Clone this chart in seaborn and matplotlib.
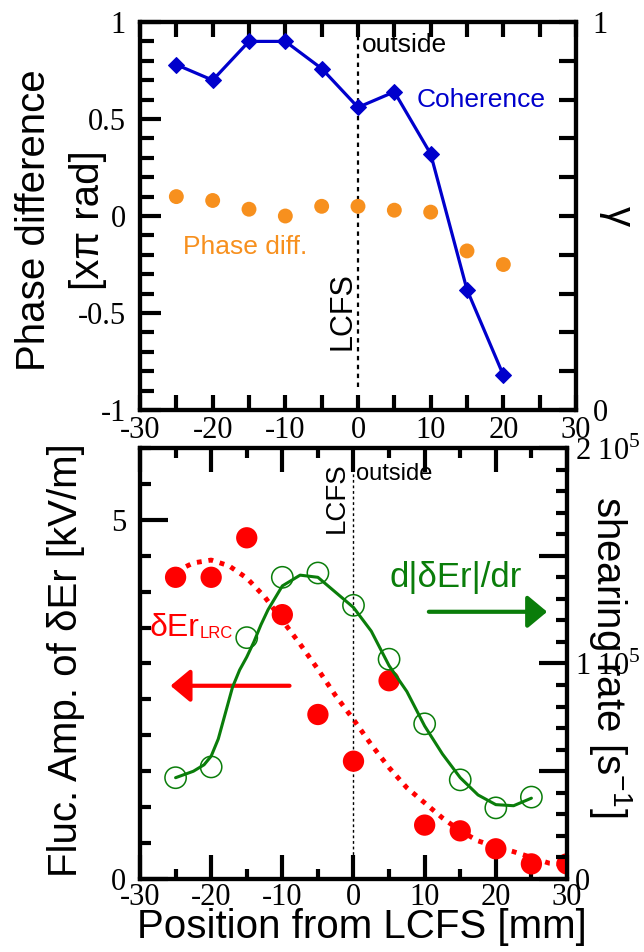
import seaborn as sns
import matplotlib.pyplot as plt
from matplotlib.ticker import MultipleLocator, FuncFormatter

# upper panel: phase difference and coherence
pos_top = [-25, -20, -15, -10, -5, 0, 5, 10, 15, 20]
coherence = [0.89, 0.85, 0.95, 0.95, 0.88, 0.78, 0.82, 0.66, 0.31, 0.09]
phase_diff = [0.10, 0.08, 0.035, 0.0, 0.05, 0.05, 0.03, 0.02, -0.18, -0.25]

# lower panel: fluctuation amplitude and shearing rate
pos_er = [-25, -20, -15, -10, -5, 0, 5, 10, 15, 20, 25, 30]
er_amp = [4.20, 4.20, 4.75, 3.68, 2.29, 1.64, 2.76, 0.75, 0.67, 0.42, 0.21, 0.21]
pos_shear = [-25, -20, -15, -10, -5, 0, 5, 10, 15, 20, 25]
shear_rate = [0.47e5, 0.52e5, 1.12e5, 1.40e5, 1.42e5, 1.27e5, 1.02e5,
              0.72e5, 0.46e5, 0.33e5, 0.38e5]

# fitted curves
fit_pos_er = [-25, -22.5, -20, -17.5, -15, -12.5, -10, -7.5, -5, -2.5, 0, 2.5,
              5, 7.5, 10, 12.5, 15, 17.5, 20, 22.5, 25, 27.5, 30]
fit_er = [4.28, 4.40, 4.44, 4.36, 4.19, 3.93, 3.60, 3.27, 2.92, 2.55, 2.22, 1.87,
          1.55, 1.27, 1.06, 0.85, 0.67, 0.53, 0.45, 0.38, 0.30, 0.22, 0.20]
fit_pos_shear = [-25, -22.5, -21, -20, -19, -18, -17, -16, -15, -14, -13, -12,
                 -10, -7.5, -5, -2.5, 0, 2.5, 5, 7.5, 10, 12.5, 15, 17.5, 20,
                 22.5, 25]
fit_shear = [0.47e5, 0.50e5, 0.53e5, 0.57e5, 0.65e5, 0.77e5, 0.89e5, 0.97e5,
             1.03e5, 1.10e5, 1.18e5, 1.25e5, 1.36e5, 1.41e5, 1.40e5, 1.33e5,
             1.26e5, 1.15e5, 0.99e5, 0.87e5, 0.71e5, 0.58e5, 0.47e5, 0.39e5,
             0.345e5, 0.34e5, 0.375e5]

BLUE = "#0000CC"
ORANGE = "#F7901E"
RED = "#FF0000"
GREEN = "#0A7D0A"
SANS = "Liberation Sans"
SERIF = "Liberation Serif"
TICK_FS = 22
LABEL_FS = 29

sns.set_style("ticks")
plt.rcParams["font.family"] = [SANS, "DejaVu Sans"]
plt.rcParams["mathtext.fontset"] = "custom"
plt.rcParams["mathtext.rm"] = SERIF
plt.rcParams["mathtext.sf"] = SANS
plt.rcParams["text.color"] = "black"
plt.rcParams["axes.labelcolor"] = "black"
plt.rcParams["axes.edgecolor"] = "black"
plt.rcParams["xtick.color"] = "black"
plt.rcParams["ytick.color"] = "black"


def style_axis(ax):
    for sp in ax.spines.values():
        sp.set_linewidth(3)
        sp.set_color("black")
        sp.set_visible(True)
    for lab in ax.get_xticklabels() + ax.get_yticklabels():
        lab.set_fontfamily(SERIF)
        lab.set_fontsize(TICK_FS)
        lab.set_color("black")


num = FuncFormatter(lambda v, p: "%g" % v)

fig = plt.figure(figsize=(6.44, 9.52), dpi=100)

# ---------------- upper panel ----------------
ax1 = fig.add_axes([0.2174, 0.5693, 0.6770, 0.4076])
ax1r = ax1.twinx()

sns.scatterplot(x=pos_top, y=phase_diff, ax=ax1, color=ORANGE, s=115,
                edgecolor="none", zorder=3)
sns.lineplot(x=pos_top, y=coherence, ax=ax1r, color=BLUE, lw=2.3, marker="D",
             markersize=8.5, markeredgecolor=BLUE)

ax1.set_xlim(-30, 30)
ax1.set_ylim(-1, 1)
ax1r.set_ylim(0, 1)
ax1.axvline(0, ymin=0.06, ymax=1, color="black", ls=(0, (2, 2)), lw=1.6)

ax1.xaxis.set_major_locator(MultipleLocator(10))
ax1.xaxis.set_minor_locator(MultipleLocator(5))
ax1.yaxis.set_major_locator(MultipleLocator(0.5))
ax1.yaxis.set_minor_locator(MultipleLocator(0.1))
ax1.xaxis.set_major_formatter(num)
ax1.yaxis.set_major_formatter(num)
ax1r.yaxis.set_major_locator(MultipleLocator(1))
ax1r.yaxis.set_minor_locator(MultipleLocator(0.1))
ax1r.yaxis.set_major_formatter(num)

ax1.tick_params(axis="x", which="both", direction="in", top=True, length=11,
                width=3, pad=4)
ax1.tick_params(axis="y", which="major", direction="in", length=15, width=3, pad=10)
ax1.tick_params(axis="y", which="minor", direction="in", length=10, width=3)
ax1r.tick_params(axis="y", which="both", direction="in", length=12, width=3, pad=12)

ax1.set_xlabel("")
ax1.set_ylabel("Phase difference\n[x\u03c0 rad]", fontsize=LABEL_FS,
               linespacing=1.55, color="black")
ax1.yaxis.set_label_coords(-0.075, 0.49)
ax1r.set_ylabel("\u03b3", fontsize=LABEL_FS, rotation=270, va="center",
                color="black")
ax1r.yaxis.set_label_coords(1.095, 0.5)

ax1.text(0.6, 0.88, "outside", fontsize=19, ha="left", va="center")
ax1.text(8.0, 0.60, "Coherence", fontsize=19, color=BLUE, ha="left", va="center")
ax1.text(-24.1, -0.158, "Phase diff.", fontsize=19, color=ORANGE, ha="left",
         va="center")
ax1.text(-2.2, -0.49, "LCFS", fontsize=22, rotation=90, ha="center", va="center")

style_axis(ax1)
style_axis(ax1r)

# ---------------- lower panel ----------------
ax2 = fig.add_axes([0.2174, 0.0767, 0.6630, 0.4527])
ax2r = ax2.twinx()

sns.lineplot(x=fit_pos_er, y=fit_er, ax=ax2, color=RED, lw=3.5,
             ls=(0, (1, 1.4)), zorder=2)
sns.scatterplot(x=pos_er, y=er_amp, ax=ax2, color=RED, s=235, edgecolor="none",
                zorder=3)
sns.lineplot(x=fit_pos_shear, y=fit_shear, ax=ax2r, color=GREEN, lw=2.2)
sns.scatterplot(x=pos_shear, y=shear_rate, ax=ax2r, facecolor="none",
                edgecolor=GREEN, linewidth=1.1, s=235)

ax2.set_xlim(-30, 30)
ax2.set_ylim(0, 6)
ax2r.set_ylim(0, 2e5)
ax2.axvline(0, ymin=0.043, ymax=0.963, color="black", ls=(0, (2, 2)), lw=1.0)

ax2.xaxis.set_major_locator(MultipleLocator(10))
ax2.xaxis.set_minor_locator(MultipleLocator(5))
ax2.yaxis.set_major_locator(MultipleLocator(5))
ax2.yaxis.set_minor_locator(MultipleLocator(0.5))
ax2.xaxis.set_major_formatter(num)
ax2.yaxis.set_major_formatter(num)
ax2r.yaxis.set_major_locator(MultipleLocator(0.5e5))
ax2r.yaxis.set_minor_locator(MultipleLocator(0.1e5))


def shear_fmt(v, p):
    if abs(v) < 1:
        return "0"
    if abs(v / 1e5 - round(v / 1e5)) < 1e-6:
        return "%d 10$^{5}$" % round(v / 1e5)
    return ""


ax2r.yaxis.set_major_formatter(FuncFormatter(shear_fmt))

ax2.tick_params(axis="x", which="major", direction="in", top=True, length=17,
                width=3, pad=3)
ax2.tick_params(axis="x", which="minor", direction="in", top=True, length=7,
                width=3)
ax2.tick_params(axis="y", which="major", direction="in", length=20, width=3, pad=10)
ax2.tick_params(axis="y", which="minor", direction="in", length=8, width=3)
ax2r.tick_params(axis="y", which="major", direction="in", length=20, width=3, pad=6)
ax2r.tick_params(axis="y", which="minor", direction="in", length=8, width=3)

ax2.set_xlabel("Position from LCFS [mm]", fontsize=LABEL_FS, va="top",
               color="black")
ax2.xaxis.set_label_coords(0.519, -0.067)
ax2.set_ylabel("Fluc. Amp. of \u03b4Er [kV/m]", fontsize=LABEL_FS, color="black")
ax2.yaxis.set_label_coords(-0.128, 0.508)
ax2r.set_ylabel("shearing rate [s$^{\\mathsf{-1}}$]", fontsize=LABEL_FS,
                rotation=270, va="center", color="black")
ax2r.yaxis.set_label_coords(1.103, 0.517)

ax2.text(0.4, 5.64, "outside", fontsize=17, ha="left", va="center")
ax2.text(-2.4, 5.31, "LCFS", fontsize=20, rotation=90, ha="center", va="center")
ax2.text(5.0, 4.2, "d|\u03b4Er|/dr", fontsize=25, color=GREEN, ha="left",
         va="center")
t_er = ax2.text(-28.6, 3.49, "\u03b4Er", fontsize=23, color=RED, ha="left",
                va="center")
ax2.annotate("LRC", xy=(1.0, 0.08), xycoords=t_er, fontsize=12, color=RED,
             ha="left", va="bottom")

ax2.annotate("", xy=(27.6, 3.72), xytext=(10.2, 3.72),
             arrowprops=dict(arrowstyle="-|>,head_length=0.6,head_width=0.5",
                             color=GREEN, lw=3, mutation_scale=20))
ax2.annotate("", xy=(-26.1, 2.69), xytext=(-8.6, 2.69),
             arrowprops=dict(arrowstyle="-|>,head_length=0.6,head_width=0.5",
                             color=RED, lw=3, mutation_scale=20))

style_axis(ax2)
style_axis(ax2r)

fig.savefig("out.png", dpi=100)
